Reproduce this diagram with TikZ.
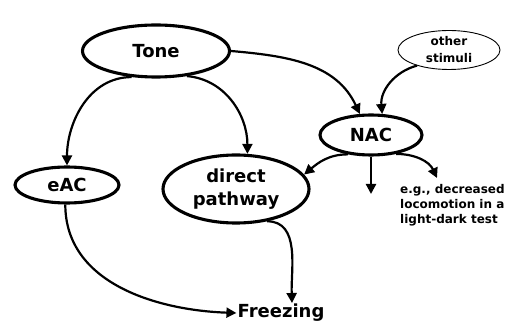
\documentclass[tikz,border=0pt]{standalone}
\usepackage{fontspec}
\setmainfont{DejaVu Sans}
\usetikzlibrary{shapes.geometric,arrows.meta}
\begin{document}
\begin{tikzpicture}[x=1pt,y=-1pt,
    region/.style={draw, ellipse, line width=3.1pt, inner sep=0pt},
    conn/.style={line width=2.2pt, -{Triangle[length=10pt,width=10pt]}},
    big/.style={font=\bfseries\fontsize{18}{23}\selectfont},
    small/.style={font=\bfseries\fontsize{12}{15}\selectfont}]
  \useasboundingbox (0,0) rectangle (532,328);

  % Regions
  \node[region, big, minimum width=147pt, minimum height=52pt] (tone) at (156,51) {Tone};
  \node[region, big, minimum width=104pt, minimum height=36pt] (eac) at (67,185) {eAC};
  \node[region, big, align=center, minimum width=146pt, minimum height=68pt] (direct) at (236,189) {direct\\pathway};
  \node[region, big, minimum width=102pt, minimum height=40pt] (nac) at (371,135) {NAC};
  \node[draw, ellipse, line width=0.9pt, inner sep=0pt, small, font=\bfseries\fontsize{12}{17}\selectfont, align=center,
        minimum width=102pt, minimum height=39pt] (other) at (449,50) {other\\stimuli};

  % Outputs
  \node[big, inner sep=1pt] (freezing) at (281,313) {Freezing};
  \node[small, align=left, anchor=north west, inner sep=0pt] (loco) at (400,184)
    {e.g., decreased\\locomotion in a\\light-dark test};
  \coordinate (down) at (371,194);
  \coordinate (right) at (437,178);

  % Connections from Tone
  \draw[conn] (tone.227) to[out=180, in=90] (eac.north);
  \draw[conn] (tone.321) to[out=-5, in=90] (direct.72);
  \draw[conn] (tone.east) to[out=-5, in=115] (nac.118);
  \draw[conn] (other.206) to[out=195, in=95] (nac.62);

  % Connections from NAC
  \draw[conn] (nac.220) to[out=180, in=40] (direct.12);
  \draw[conn] (nac.south) -- (down);
  \draw[conn] (nac.323) to[out=0, in=115] (right);

  % To freezing
  \draw[conn] (eac.265) to[out=-90, in=178] (freezing.west);
  \draw[conn] (direct.314) to[out=0, in=92] ([xshift=11pt]freezing.north);
\end{tikzpicture}
\end{document}
